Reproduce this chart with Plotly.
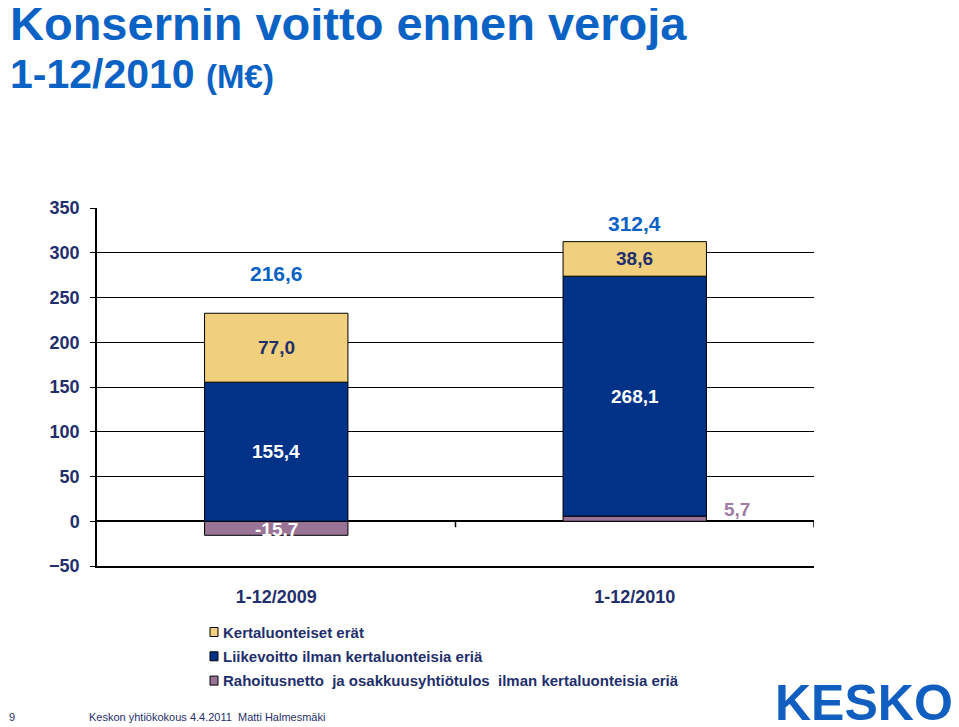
import plotly.graph_objects as go

categories = ["1-12/2009", "1-12/2010"]
rahoitus = [-15.7, 5.7]
liikevoitto = [155.4, 268.1]
kertaluonteiset = [77.0, 38.6]
totals = [216.6, 312.4]
rahoitus_labels = ["-15,7", "5,7"]
liikevoitto_labels = ["155,4", "268,1"]
kerta_labels = ["77,0", "38,6"]
total_labels = ["216,6", "312,4"]
y_ticks = [-50, 0, 50, 100, 150, 200, 250, 300, 350]
legend_names = ["Kertaluonteiset erät",
                "Liikevoitto ilman kertaluonteisia eriä",
                "Rahoitusnetto  ja osakkuusyhtiötulos  ilman kertaluonteisia eriä"]

NAVY = "#1F2F6B"
TITLE_BLUE = "#0A62C4"
YELLOW = "#F0D07C"
BLUE = "#003388"
PURPLE = "#9A7496"
FONT = "Liberation Sans"

# page body has an 8px margin; work in window pixels and convert
OFF = 8
W, H = 959 - OFF, 727 - OFF
L, R, T, B = 97 - OFF, 814 - OFF, 208 - OFF, 566 - OFF


def xp(px):
    return (px - OFF - L) / (R - L)


def yp(py):
    return (B - (py - OFF)) / (B - T)


fig = go.Figure()
fig.add_trace(go.Bar(x=categories, y=rahoitus, name=legend_names[2],
                     marker=dict(color=PURPLE, line=dict(color="black", width=1)), width=0.4))
fig.add_trace(go.Bar(x=categories, y=liikevoitto, name=legend_names[1],
                     marker=dict(color=BLUE, line=dict(color="black", width=1)), width=0.4))
fig.add_trace(go.Bar(x=categories, y=kertaluonteiset, name=legend_names[0],
                     marker=dict(color=YELLOW, line=dict(color="black", width=1)), width=0.4))

ann = []
for i, c in enumerate(categories):
    pos_base = max(rahoitus[i], 0)
    if rahoitus[i] < 0:
        ann.append(dict(x=c, y=rahoitus[i] / 2 - 1, text="<b>%s</b>" % rahoitus_labels[i], showarrow=False,
                        font=dict(color="white", size=19, family=FONT)))
    else:
        ann.append(dict(x=c, y=rahoitus[i], text="<b>%s</b>" % rahoitus_labels[i], showarrow=False,
                        xshift=102, yshift=7, font=dict(color="#A07CA4", size=19, family=FONT)))
    ann.append(dict(x=c, y=pos_base + liikevoitto[i] / 2, text="<b>%s</b>" % liikevoitto_labels[i], showarrow=False,
                    font=dict(color="white", size=19, family=FONT)))
    ann.append(dict(x=c, y=pos_base + liikevoitto[i] + kertaluonteiset[i] / 2, text="<b>%s</b>" % kerta_labels[i],
                    showarrow=False, font=dict(color=NAVY, size=19, family=FONT)))
    top = pos_base + liikevoitto[i] + kertaluonteiset[i]
    ann.append(dict(x=c, y=top, yanchor="bottom", yshift=[26, 5][i], text="<b>%s</b>" % total_labels[i],
                    showarrow=False, font=dict(color=TITLE_BLUE, size=21, family=FONT)))

# titles
ann.append(dict(xref="paper", yref="paper", x=xp(8), y=yp(52), xanchor="left", yanchor="bottom",
                text="<b>Konsernin voitto ennen veroja</b>", showarrow=False,
                font=dict(color=TITLE_BLUE, size=47, family=FONT)))
ann.append(dict(xref="paper", yref="paper", x=xp(8), y=yp(99), xanchor="left", yanchor="bottom",
                text="<b>1-12/2010 <span style='font-size:33px'>(M€)</span></b>", showarrow=False,
                font=dict(color=TITLE_BLUE, size=41, family=FONT)))
# legend (manual)
shapes = []
for k, (name, col) in enumerate(zip(legend_names, [YELLOW, BLUE, PURPLE])):
    cy = 632 + k * 24.3
    shapes.append(dict(type="rect", xref="paper", yref="paper", x0=xp(210), x1=xp(218),
                       y0=yp(cy + 4.5), y1=yp(cy - 4.5), fillcolor=col, line=dict(color="black", width=1)))
    ann.append(dict(xref="paper", yref="paper", x=xp(221), y=yp(cy), xanchor="left", yanchor="middle",
                    text="<b>%s</b>" % name, showarrow=False, font=dict(color=NAVY, size=15, family=FONT)))
# footer
ann.append(dict(xref="paper", yref="paper", x=xp(7), y=yp(717), xanchor="left", yanchor="middle",
                text="9", showarrow=False, font=dict(color=NAVY, size=11, family=FONT)))
ann.append(dict(xref="paper", yref="paper", x=xp(87), y=yp(717), xanchor="left", yanchor="middle",
                text="Keskon yhtiökokous 4.4.2011  Matti Halmesmäki", showarrow=False,
                font=dict(color=NAVY, size=11, family=FONT)))
ann.append(dict(xref="paper", yref="paper", x=xp(773), y=yp(703), xanchor="left", yanchor="middle",
                text="<b>KESKO</b>", showarrow=False, font=dict(color="#0F5EC0", size=50, family=FONT)))

for bx in [0.5, 1.5]:
    shapes.append(dict(type="line", xref="x", yref="y", x0=bx, x1=bx, ysizemode="pixel", yanchor=0,
                       y0=0, y1=-6, line=dict(color="black", width=1.5)))

fig.update_layout(
    width=W, height=H,
    margin=dict(l=L, r=W - R, t=T, b=H - B, autoexpand=False),
    paper_bgcolor="white", plot_bgcolor="white",
    barmode="relative", bargap=0.6,
    annotations=ann, shapes=shapes,
    showlegend=False,
)
fig.update_xaxes(type="category", showgrid=False, showline=True, linecolor="black", linewidth=1.5,
                 ticks="", ticklabelstandoff=14, range=[-0.5, 1.5],
                 tickfont=dict(color=NAVY, size=18, family=FONT, weight="bold"))
fig.update_yaxes(range=[-50, 350], tickvals=y_ticks, showgrid=True, gridcolor="black", gridwidth=1.3,
                 showline=True, linecolor="black", linewidth=1.5, ticks="outside", ticklen=5,
                 tickcolor="black", tickwidth=1.3, zeroline=True, zerolinecolor="black", zerolinewidth=1.5,
                 ticklabelstandoff=7, tickfont=dict(color=NAVY, size=18, family=FONT, weight="bold"))

fig.write_html("out.html")
